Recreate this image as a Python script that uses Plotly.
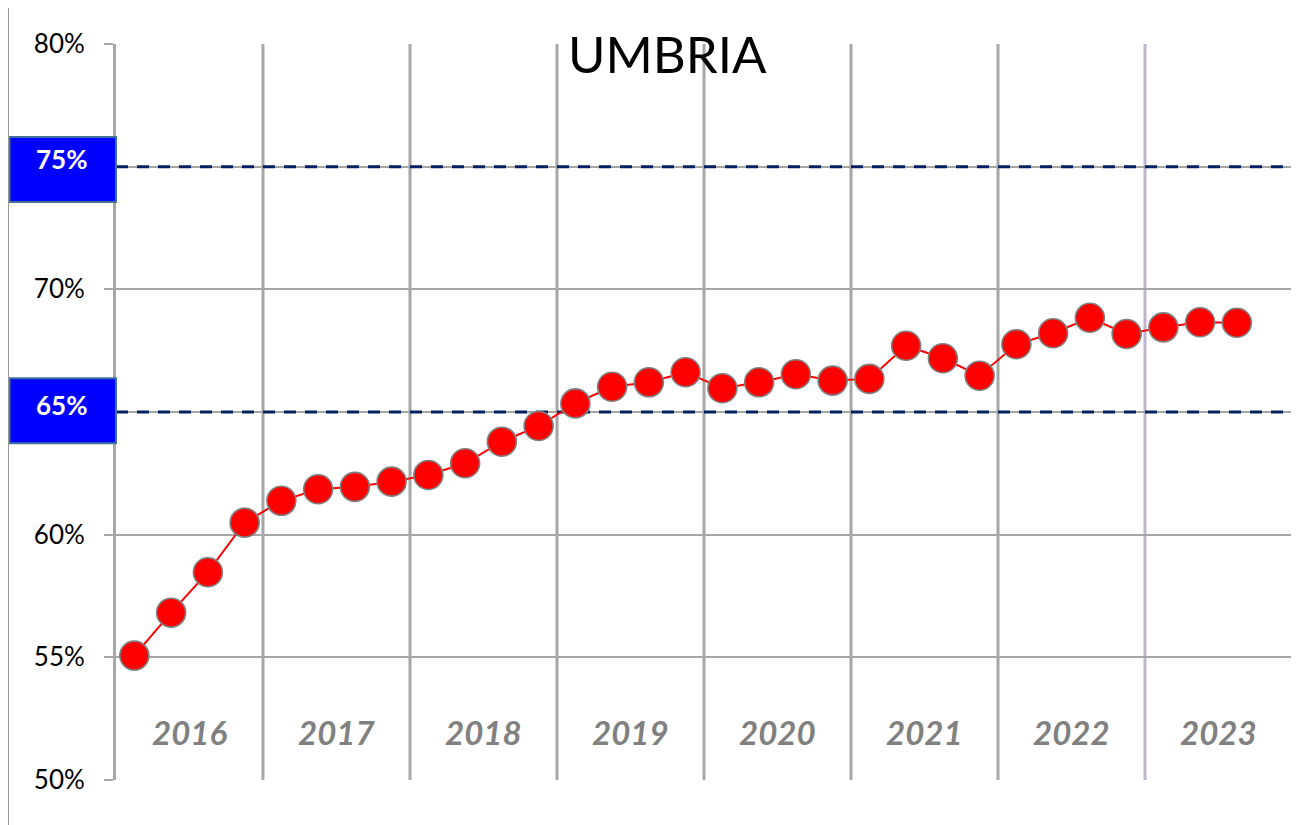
import plotly.graph_objects as go

# ---------------- data ----------------
years = [2016, 2017, 2018, 2019, 2020, 2021, 2022, 2023]
quarters = ["Q1", "Q2", "Q3", "Q4"]
categories = [f"{y} {q}" for y in years for q in quarters]

values = [55.07, 56.82, 58.47, 60.49,
          61.38, 61.85, 61.95, 62.16,
          62.43, 62.91, 63.79, 64.43,
          65.35, 66.03, 66.21, 66.62,
          65.97, 66.21, 66.54, 66.28,
          66.35, 67.70, 67.19, 66.48,
          67.76, 68.21, 68.84, 68.18,
          68.45, 68.66, 68.64, None]

y_ticks = [50, 55, 60, 65, 70, 75, 80]
ref_levels = [75, 65]
title_text = "UMBRIA"

# ---------------- figure ----------------
n = len(categories)
xpos = list(range(n))
x_lo, x_hi = -0.5, n - 0.5

fig = go.Figure()
# dashed reference lines (drawn first so markers sit on top)
for lv in ref_levels:
    fig.add_trace(go.Scatter(x=[x_lo, x_hi], y=[lv, lv], mode="lines",
                             line=dict(color="#002060", width=3, dash="12px,9px"),
                             showlegend=False, hoverinfo="skip"))
fig.add_trace(go.Scatter(
    x=xpos, y=values, mode="lines+markers", text=categories,
    line=dict(color="#ff0000", width=2),
    marker=dict(size=29, color="#ff0000", line=dict(color="#808080", width=1.6)),
    connectgaps=False, showlegend=False, hovertemplate="%{text}: %{y:.1f}%<extra></extra>"))

GRID = "#a6a6a6"
shapes = []
# vertical year separators
for i in range(1, len(years)):
    xb = i * len(quarters) - 0.5
    col = "#bfb3d3" if years[i] == years[-1] else GRID
    shapes.append(dict(type="line", xref="x", yref="paper", x0=xb, x1=xb, y0=0, y1=1,
                       line=dict(color=col, width=3), layer="below"))
# right border
shapes.append(dict(type="line", xref="x", yref="paper", x0=x_hi, x1=x_hi, y0=0, y1=1,
                   line=dict(color=GRID, width=2), layer="below"))
# blue label boxes
box_half = [(1.21, 1.44), (1.38, 1.27)]
annotations = []
for lv, (up, dn) in zip(ref_levels, box_half):
    shapes.append(dict(type="rect", xref="paper", yref="y", x0=-0.0905, x1=0.0, y0=lv - dn, y1=lv + up,
                       fillcolor="#0000ff", line=dict(color="#41719c", width=2), layer="above"))
    annotations.append(dict(text=f"{lv}%", xref="paper", yref="y", x=-0.046, y=lv + 0.3,
                            xanchor="center", yanchor="middle", showarrow=False,
                            font=dict(family="Lato", size=26, color="white", weight="bold")))
# outer frame (left and top)
shapes.append(dict(type="path", xref="paper", yref="paper",
                   path="M -0.0918,-0.07 L -0.0918,1.0557 L 1.02,1.0557",
                   line=dict(color="#999999", width=2), layer="above"))

# year labels
for i, yr in enumerate(years):
    annotations.append(dict(text=f"<i>{yr}</i>", xref="x", yref="y",
                            x=i * len(quarters) + 1.5, y=51.95, xanchor="center", showarrow=False,
                            font=dict(family="Lato", size=33, color="#808080", weight="bold")))
# title
annotations.append(dict(text=title_text, xref="paper", yref="y", x=0.469, y=79.63,
                        xanchor="center", yanchor="middle", showarrow=False,
                        font=dict(family="Lato", size=51, color="black")))

ticktext = ["" if t in ref_levels else f"{t}%" for t in y_ticks]

# page body adds an 8px offset, so the figure is sized/margined to compensate
fig.update_layout(
    width=1291, height=817,
    margin=dict(l=108, r=7, t=36, b=45),
    paper_bgcolor="white", plot_bgcolor="white",
    shapes=shapes, annotations=annotations,
    xaxis=dict(range=[x_lo, x_hi], showticklabels=False, showgrid=False, zeroline=False,
               showline=False, ticks=""),
    yaxis=dict(range=[50, 80], tickvals=y_ticks, ticktext=ticktext, showgrid=True,
               gridcolor=GRID, gridwidth=2, zeroline=False, showline=True, linecolor=GRID,
               linewidth=3, ticks="outside", ticklen=9, tickcolor=GRID, tickwidth=2,
               ticklabelstandoff=14,
               tickfont=dict(family="Lato", size=26, color="black")),
)

fig.write_html("out.html")
